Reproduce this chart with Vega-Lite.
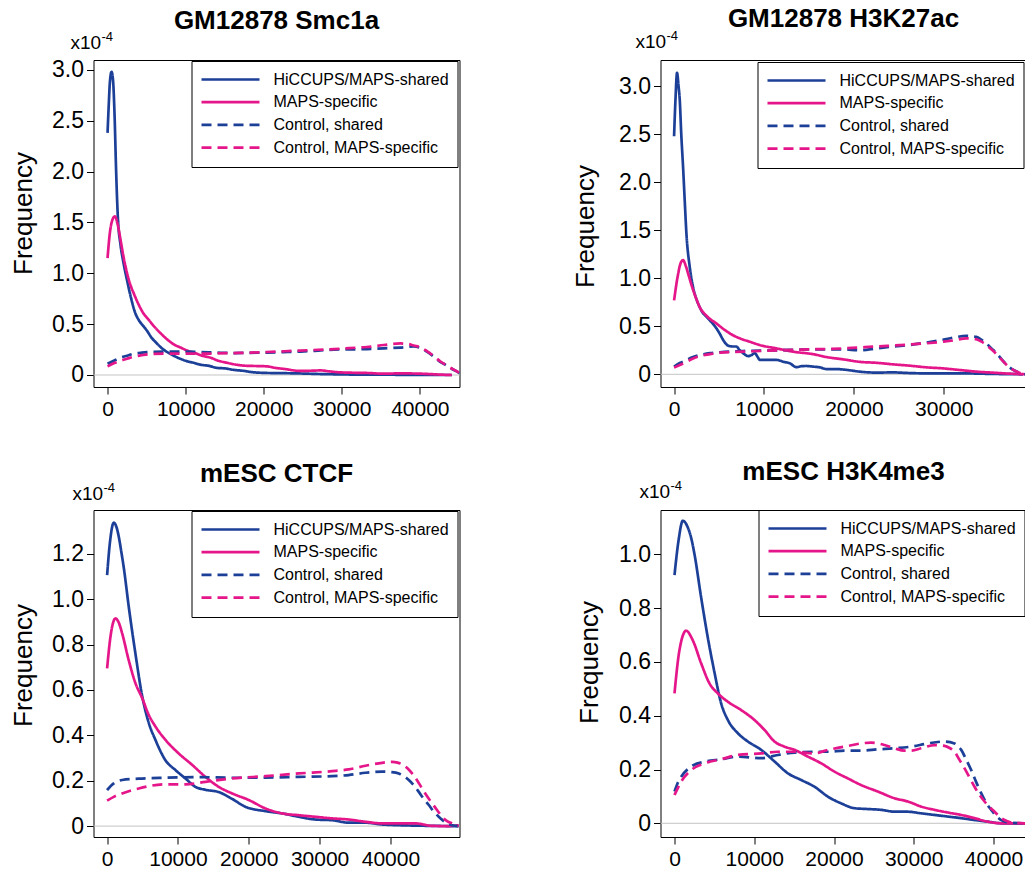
{
  "$schema": "https://vega.github.io/schema/vega-lite/v6.json",
  "background": "white",
  "autosize": {"type": "none"},
  "padding": {"left": 93.5, "top": 60, "right": 931.5, "bottom": 813},
  "datasets": {
    "p1": [
      {"s":"HiCCUPS/MAPS-shared","x":0,"v":2.38},{"s":"HiCCUPS/MAPS-shared","x":150,"v":2.65},{"s":"HiCCUPS/MAPS-shared","x":300,"v":2.88},{"s":"HiCCUPS/MAPS-shared","x":512,"v":2.98},{"s":"HiCCUPS/MAPS-shared","x":700,"v":2.9},{"s":"HiCCUPS/MAPS-shared","x":900,"v":2.55},{"s":"HiCCUPS/MAPS-shared","x":1100,"v":2.0},{"s":"HiCCUPS/MAPS-shared","x":1320,"v":1.55},{"s":"HiCCUPS/MAPS-shared","x":1660,"v":1.28},{"s":"HiCCUPS/MAPS-shared","x":2000,"v":1.12},{"s":"HiCCUPS/MAPS-shared","x":2500,"v":0.93},{"s":"HiCCUPS/MAPS-shared","x":3000,"v":0.76},{"s":"HiCCUPS/MAPS-shared","x":3500,"v":0.62},{"s":"HiCCUPS/MAPS-shared","x":4000,"v":0.54},{"s":"HiCCUPS/MAPS-shared","x":4600,"v":0.48},{"s":"HiCCUPS/MAPS-shared","x":5100,"v":0.43},{"s":"HiCCUPS/MAPS-shared","x":5600,"v":0.37},{"s":"HiCCUPS/MAPS-shared","x":6200,"v":0.32},{"s":"HiCCUPS/MAPS-shared","x":7000,"v":0.26},{"s":"HiCCUPS/MAPS-shared","x":8000,"v":0.21},{"s":"HiCCUPS/MAPS-shared","x":9000,"v":0.17},{"s":"HiCCUPS/MAPS-shared","x":10000,"v":0.14},{"s":"HiCCUPS/MAPS-shared","x":11000,"v":0.12},{"s":"HiCCUPS/MAPS-shared","x":12000,"v":0.1},{"s":"HiCCUPS/MAPS-shared","x":13000,"v":0.09},{"s":"HiCCUPS/MAPS-shared","x":14000,"v":0.07},{"s":"HiCCUPS/MAPS-shared","x":15000,"v":0.065},{"s":"HiCCUPS/MAPS-shared","x":16200,"v":0.05},{"s":"HiCCUPS/MAPS-shared","x":17500,"v":0.04},{"s":"HiCCUPS/MAPS-shared","x":18300,"v":0.03},{"s":"HiCCUPS/MAPS-shared","x":20400,"v":0.02},{"s":"HiCCUPS/MAPS-shared","x":22500,"v":0.018},{"s":"HiCCUPS/MAPS-shared","x":24700,"v":0.015},{"s":"HiCCUPS/MAPS-shared","x":27000,"v":0.01},{"s":"HiCCUPS/MAPS-shared","x":29000,"v":0.007},{"s":"HiCCUPS/MAPS-shared","x":33200,"v":0.003},{"s":"HiCCUPS/MAPS-shared","x":37500,"v":0.002},{"s":"HiCCUPS/MAPS-shared","x":41800,"v":0},{"s":"HiCCUPS/MAPS-shared","x":44100,"v":0},
      {"s":"MAPS-specific","x":0,"v":1.15},{"s":"MAPS-specific","x":300,"v":1.4},{"s":"MAPS-specific","x":600,"v":1.52},{"s":"MAPS-specific","x":940,"v":1.56},{"s":"MAPS-specific","x":1300,"v":1.48},{"s":"MAPS-specific","x":1660,"v":1.33},{"s":"MAPS-specific","x":2000,"v":1.18},{"s":"MAPS-specific","x":2500,"v":1.0},{"s":"MAPS-specific","x":3000,"v":0.87},{"s":"MAPS-specific","x":3370,"v":0.8},{"s":"MAPS-specific","x":4000,"v":0.69},{"s":"MAPS-specific","x":4650,"v":0.6},{"s":"MAPS-specific","x":5300,"v":0.54},{"s":"MAPS-specific","x":5930,"v":0.48},{"s":"MAPS-specific","x":6800,"v":0.41},{"s":"MAPS-specific","x":7640,"v":0.35},{"s":"MAPS-specific","x":8500,"v":0.3},{"s":"MAPS-specific","x":9350,"v":0.27},{"s":"MAPS-specific","x":10200,"v":0.24},{"s":"MAPS-specific","x":11050,"v":0.22},{"s":"MAPS-specific","x":12100,"v":0.19},{"s":"MAPS-specific","x":13200,"v":0.17},{"s":"MAPS-specific","x":14200,"v":0.14},{"s":"MAPS-specific","x":15300,"v":0.12},{"s":"MAPS-specific","x":16600,"v":0.1},{"s":"MAPS-specific","x":17900,"v":0.09},{"s":"MAPS-specific","x":19200,"v":0.088},{"s":"MAPS-specific","x":20400,"v":0.085},{"s":"MAPS-specific","x":21500,"v":0.07},{"s":"MAPS-specific","x":22600,"v":0.06},{"s":"MAPS-specific","x":24700,"v":0.04},{"s":"MAPS-specific","x":26000,"v":0.042},{"s":"MAPS-specific","x":27300,"v":0.045},{"s":"MAPS-specific","x":28500,"v":0.035},{"s":"MAPS-specific","x":29800,"v":0.026},{"s":"MAPS-specific","x":31500,"v":0.022},{"s":"MAPS-specific","x":33200,"v":0.02},{"s":"MAPS-specific","x":35400,"v":0.013},{"s":"MAPS-specific","x":37500,"v":0.016},{"s":"MAPS-specific","x":40100,"v":0.013},{"s":"MAPS-specific","x":42600,"v":0.004},{"s":"MAPS-specific","x":44100,"v":0},
      {"s":"Control, shared","x":0,"v":0.11},{"s":"Control, shared","x":800,"v":0.14},{"s":"Control, shared","x":1660,"v":0.17},{"s":"Control, shared","x":2500,"v":0.19},{"s":"Control, shared","x":3370,"v":0.21},{"s":"Control, shared","x":4400,"v":0.22},{"s":"Control, shared","x":5500,"v":0.226},{"s":"Control, shared","x":7640,"v":0.23},{"s":"Control, shared","x":9800,"v":0.23},{"s":"Control, shared","x":11900,"v":0.226},{"s":"Control, shared","x":14000,"v":0.22},{"s":"Control, shared","x":16200,"v":0.216},{"s":"Control, shared","x":18300,"v":0.218},{"s":"Control, shared","x":20400,"v":0.22},{"s":"Control, shared","x":22500,"v":0.225},{"s":"Control, shared","x":24700,"v":0.23},{"s":"Control, shared","x":27000,"v":0.24},{"s":"Control, shared","x":29000,"v":0.25},{"s":"Control, shared","x":31000,"v":0.252},{"s":"Control, shared","x":33200,"v":0.255},{"s":"Control, shared","x":35400,"v":0.262},{"s":"Control, shared","x":37500,"v":0.27},{"s":"Control, shared","x":39200,"v":0.28},{"s":"Control, shared","x":40100,"v":0.265},{"s":"Control, shared","x":40900,"v":0.23},{"s":"Control, shared","x":41800,"v":0.18},{"s":"Control, shared","x":42600,"v":0.13},{"s":"Control, shared","x":43300,"v":0.1},{"s":"Control, shared","x":43900,"v":0.07},{"s":"Control, shared","x":44600,"v":0.04},{"s":"Control, shared","x":45200,"v":0.013},
      {"s":"Control, MAPS-specific","x":0,"v":0.085},{"s":"Control, MAPS-specific","x":800,"v":0.115},{"s":"Control, MAPS-specific","x":1660,"v":0.14},{"s":"Control, MAPS-specific","x":2500,"v":0.16},{"s":"Control, MAPS-specific","x":3370,"v":0.18},{"s":"Control, MAPS-specific","x":4400,"v":0.195},{"s":"Control, MAPS-specific","x":5500,"v":0.206},{"s":"Control, MAPS-specific","x":7640,"v":0.21},{"s":"Control, MAPS-specific","x":9800,"v":0.21},{"s":"Control, MAPS-specific","x":11900,"v":0.21},{"s":"Control, MAPS-specific","x":14000,"v":0.212},{"s":"Control, MAPS-specific","x":16200,"v":0.216},{"s":"Control, MAPS-specific","x":18300,"v":0.22},{"s":"Control, MAPS-specific","x":20400,"v":0.226},{"s":"Control, MAPS-specific","x":22500,"v":0.233},{"s":"Control, MAPS-specific","x":24700,"v":0.24},{"s":"Control, MAPS-specific","x":27000,"v":0.248},{"s":"Control, MAPS-specific","x":29000,"v":0.255},{"s":"Control, MAPS-specific","x":31000,"v":0.265},{"s":"Control, MAPS-specific","x":33200,"v":0.275},{"s":"Control, MAPS-specific","x":35400,"v":0.295},{"s":"Control, MAPS-specific","x":37500,"v":0.31},{"s":"Control, MAPS-specific","x":38500,"v":0.305},{"s":"Control, MAPS-specific","x":39200,"v":0.29},{"s":"Control, MAPS-specific","x":40100,"v":0.272},{"s":"Control, MAPS-specific","x":40900,"v":0.235},{"s":"Control, MAPS-specific","x":41800,"v":0.185},{"s":"Control, MAPS-specific","x":42600,"v":0.135},{"s":"Control, MAPS-specific","x":43300,"v":0.1},{"s":"Control, MAPS-specific","x":43900,"v":0.072},{"s":"Control, MAPS-specific","x":44600,"v":0.042},{"s":"Control, MAPS-specific","x":45200,"v":0.015}
    ],
    "p2": [
      {"s":"HiCCUPS/MAPS-shared","x":0,"v":2.48},{"s":"HiCCUPS/MAPS-shared","x":150,"v":2.85},{"s":"HiCCUPS/MAPS-shared","x":330,"v":3.14},{"s":"HiCCUPS/MAPS-shared","x":500,"v":3.0},{"s":"HiCCUPS/MAPS-shared","x":630,"v":2.86},{"s":"HiCCUPS/MAPS-shared","x":800,"v":2.5},{"s":"HiCCUPS/MAPS-shared","x":1000,"v":2.16},{"s":"HiCCUPS/MAPS-shared","x":1200,"v":1.78},{"s":"HiCCUPS/MAPS-shared","x":1370,"v":1.47},{"s":"HiCCUPS/MAPS-shared","x":1740,"v":1.12},{"s":"HiCCUPS/MAPS-shared","x":2110,"v":0.91},{"s":"HiCCUPS/MAPS-shared","x":2500,"v":0.78},{"s":"HiCCUPS/MAPS-shared","x":2850,"v":0.7},{"s":"HiCCUPS/MAPS-shared","x":3200,"v":0.64},{"s":"HiCCUPS/MAPS-shared","x":3600,"v":0.6},{"s":"HiCCUPS/MAPS-shared","x":4100,"v":0.55},{"s":"HiCCUPS/MAPS-shared","x":4700,"v":0.48},{"s":"HiCCUPS/MAPS-shared","x":5100,"v":0.42},{"s":"HiCCUPS/MAPS-shared","x":5450,"v":0.36},{"s":"HiCCUPS/MAPS-shared","x":6000,"v":0.3},{"s":"HiCCUPS/MAPS-shared","x":6500,"v":0.29},{"s":"HiCCUPS/MAPS-shared","x":6930,"v":0.29},{"s":"HiCCUPS/MAPS-shared","x":7300,"v":0.25},{"s":"HiCCUPS/MAPS-shared","x":7680,"v":0.22},{"s":"HiCCUPS/MAPS-shared","x":8230,"v":0.19},{"s":"HiCCUPS/MAPS-shared","x":8600,"v":0.2},{"s":"HiCCUPS/MAPS-shared","x":8970,"v":0.22},{"s":"HiCCUPS/MAPS-shared","x":9300,"v":0.18},{"s":"HiCCUPS/MAPS-shared","x":9530,"v":0.15},{"s":"HiCCUPS/MAPS-shared","x":10500,"v":0.15},{"s":"HiCCUPS/MAPS-shared","x":11400,"v":0.15},{"s":"HiCCUPS/MAPS-shared","x":12200,"v":0.13},{"s":"HiCCUPS/MAPS-shared","x":12870,"v":0.115},{"s":"HiCCUPS/MAPS-shared","x":13600,"v":0.075},{"s":"HiCCUPS/MAPS-shared","x":14200,"v":0.085},{"s":"HiCCUPS/MAPS-shared","x":14700,"v":0.087},{"s":"HiCCUPS/MAPS-shared","x":15500,"v":0.08},{"s":"HiCCUPS/MAPS-shared","x":16200,"v":0.073},{"s":"HiCCUPS/MAPS-shared","x":16950,"v":0.055},{"s":"HiCCUPS/MAPS-shared","x":18000,"v":0.055},{"s":"HiCCUPS/MAPS-shared","x":18800,"v":0.05},{"s":"HiCCUPS/MAPS-shared","x":19700,"v":0.04},{"s":"HiCCUPS/MAPS-shared","x":20650,"v":0.028},{"s":"HiCCUPS/MAPS-shared","x":22500,"v":0.018},{"s":"HiCCUPS/MAPS-shared","x":24400,"v":0.02},{"s":"HiCCUPS/MAPS-shared","x":26000,"v":0.014},{"s":"HiCCUPS/MAPS-shared","x":28100,"v":0.01},{"s":"HiCCUPS/MAPS-shared","x":31800,"v":0.01},{"s":"HiCCUPS/MAPS-shared","x":35500,"v":0.004},{"s":"HiCCUPS/MAPS-shared","x":38800,"v":0},
      {"s":"MAPS-specific","x":0,"v":0.77},{"s":"MAPS-specific","x":400,"v":1.02},{"s":"MAPS-specific","x":700,"v":1.15},{"s":"MAPS-specific","x":1000,"v":1.19},{"s":"MAPS-specific","x":1300,"v":1.13},{"s":"MAPS-specific","x":1560,"v":1.05},{"s":"MAPS-specific","x":2110,"v":0.88},{"s":"MAPS-specific","x":2500,"v":0.78},{"s":"MAPS-specific","x":2850,"v":0.7},{"s":"MAPS-specific","x":3600,"v":0.61},{"s":"MAPS-specific","x":4700,"v":0.53},{"s":"MAPS-specific","x":5820,"v":0.45},{"s":"MAPS-specific","x":6500,"v":0.41},{"s":"MAPS-specific","x":7300,"v":0.375},{"s":"MAPS-specific","x":8400,"v":0.34},{"s":"MAPS-specific","x":9530,"v":0.305},{"s":"MAPS-specific","x":11380,"v":0.27},{"s":"MAPS-specific","x":13240,"v":0.236},{"s":"MAPS-specific","x":15460,"v":0.21},{"s":"MAPS-specific","x":16950,"v":0.18},{"s":"MAPS-specific","x":18800,"v":0.156},{"s":"MAPS-specific","x":20650,"v":0.13},{"s":"MAPS-specific","x":22500,"v":0.12},{"s":"MAPS-specific","x":24360,"v":0.104},{"s":"MAPS-specific","x":26200,"v":0.09},{"s":"MAPS-specific","x":28070,"v":0.073},{"s":"MAPS-specific","x":29900,"v":0.062},{"s":"MAPS-specific","x":31780,"v":0.045},{"s":"MAPS-specific","x":33630,"v":0.028},{"s":"MAPS-specific","x":35500,"v":0.017},{"s":"MAPS-specific","x":37340,"v":0.007},{"s":"MAPS-specific","x":39200,"v":0},
      {"s":"Control, shared","x":0,"v":0.08},{"s":"Control, shared","x":700,"v":0.12},{"s":"Control, shared","x":1370,"v":0.15},{"s":"Control, shared","x":2110,"v":0.18},{"s":"Control, shared","x":2850,"v":0.2},{"s":"Control, shared","x":4000,"v":0.22},{"s":"Control, shared","x":5080,"v":0.23},{"s":"Control, shared","x":7680,"v":0.243},{"s":"Control, shared","x":11400,"v":0.25},{"s":"Control, shared","x":15100,"v":0.26},{"s":"Control, shared","x":18800,"v":0.26},{"s":"Control, shared","x":20650,"v":0.25},{"s":"Control, shared","x":22500,"v":0.27},{"s":"Control, shared","x":24400,"v":0.29},{"s":"Control, shared","x":26200,"v":0.305},{"s":"Control, shared","x":28000,"v":0.33},{"s":"Control, shared","x":29900,"v":0.36},{"s":"Control, shared","x":31200,"v":0.385},{"s":"Control, shared","x":32500,"v":0.4},{"s":"Control, shared","x":33600,"v":0.39},{"s":"Control, shared","x":34200,"v":0.36},{"s":"Control, shared","x":34750,"v":0.32},{"s":"Control, shared","x":35300,"v":0.27},{"s":"Control, shared","x":35860,"v":0.22},{"s":"Control, shared","x":36400,"v":0.16},{"s":"Control, shared","x":36970,"v":0.1},{"s":"Control, shared","x":37500,"v":0.06},{"s":"Control, shared","x":38080,"v":0.03},{"s":"Control, shared","x":38600,"v":0.01},{"s":"Control, shared","x":39200,"v":0},
      {"s":"Control, MAPS-specific","x":0,"v":0.07},{"s":"Control, MAPS-specific","x":700,"v":0.1},{"s":"Control, MAPS-specific","x":1370,"v":0.13},{"s":"Control, MAPS-specific","x":2110,"v":0.165},{"s":"Control, MAPS-specific","x":2850,"v":0.19},{"s":"Control, MAPS-specific","x":4000,"v":0.21},{"s":"Control, MAPS-specific","x":5080,"v":0.226},{"s":"Control, MAPS-specific","x":7680,"v":0.236},{"s":"Control, MAPS-specific","x":11400,"v":0.25},{"s":"Control, MAPS-specific","x":15100,"v":0.26},{"s":"Control, MAPS-specific","x":18800,"v":0.27},{"s":"Control, MAPS-specific","x":22500,"v":0.29},{"s":"Control, MAPS-specific","x":26200,"v":0.31},{"s":"Control, MAPS-specific","x":29900,"v":0.34},{"s":"Control, MAPS-specific","x":31200,"v":0.355},{"s":"Control, MAPS-specific","x":32500,"v":0.375},{"s":"Control, MAPS-specific","x":33600,"v":0.365},{"s":"Control, MAPS-specific","x":34200,"v":0.34},{"s":"Control, MAPS-specific","x":34750,"v":0.305},{"s":"Control, MAPS-specific","x":35300,"v":0.26},{"s":"Control, MAPS-specific","x":35860,"v":0.21},{"s":"Control, MAPS-specific","x":36400,"v":0.155},{"s":"Control, MAPS-specific","x":36970,"v":0.1},{"s":"Control, MAPS-specific","x":37500,"v":0.06},{"s":"Control, MAPS-specific","x":38080,"v":0.03},{"s":"Control, MAPS-specific","x":38600,"v":0.01},{"s":"Control, MAPS-specific","x":39200,"v":0}
    ],
    "p3": [
      {"s":"HiCCUPS/MAPS-shared","x":0,"v":1.106},{"s":"HiCCUPS/MAPS-shared","x":400,"v":1.25},{"s":"HiCCUPS/MAPS-shared","x":940,"v":1.337},{"s":"HiCCUPS/MAPS-shared","x":1300,"v":1.32},{"s":"HiCCUPS/MAPS-shared","x":1650,"v":1.275},{"s":"HiCCUPS/MAPS-shared","x":2000,"v":1.21},{"s":"HiCCUPS/MAPS-shared","x":2350,"v":1.14},{"s":"HiCCUPS/MAPS-shared","x":3060,"v":0.966},{"s":"HiCCUPS/MAPS-shared","x":4000,"v":0.76},{"s":"HiCCUPS/MAPS-shared","x":4940,"v":0.575},{"s":"HiCCUPS/MAPS-shared","x":5880,"v":0.455},{"s":"HiCCUPS/MAPS-shared","x":6820,"v":0.38},{"s":"HiCCUPS/MAPS-shared","x":8240,"v":0.29},{"s":"HiCCUPS/MAPS-shared","x":9650,"v":0.247},{"s":"HiCCUPS/MAPS-shared","x":11060,"v":0.21},{"s":"HiCCUPS/MAPS-shared","x":12470,"v":0.173},{"s":"HiCCUPS/MAPS-shared","x":13880,"v":0.16},{"s":"HiCCUPS/MAPS-shared","x":15760,"v":0.15},{"s":"HiCCUPS/MAPS-shared","x":17650,"v":0.12},{"s":"HiCCUPS/MAPS-shared","x":19530,"v":0.085},{"s":"HiCCUPS/MAPS-shared","x":22350,"v":0.066},{"s":"HiCCUPS/MAPS-shared","x":24700,"v":0.056},{"s":"HiCCUPS/MAPS-shared","x":27060,"v":0.041},{"s":"HiCCUPS/MAPS-shared","x":29400,"v":0.029},{"s":"HiCCUPS/MAPS-shared","x":31760,"v":0.026},{"s":"HiCCUPS/MAPS-shared","x":34100,"v":0.015},{"s":"HiCCUPS/MAPS-shared","x":36470,"v":0.015},{"s":"HiCCUPS/MAPS-shared","x":38820,"v":0.007},{"s":"HiCCUPS/MAPS-shared","x":41180,"v":0.004},{"s":"HiCCUPS/MAPS-shared","x":45900,"v":0.001},{"s":"HiCCUPS/MAPS-shared","x":49600,"v":0},
      {"s":"MAPS-specific","x":0,"v":0.695},{"s":"MAPS-specific","x":500,"v":0.84},{"s":"MAPS-specific","x":1180,"v":0.915},{"s":"MAPS-specific","x":1600,"v":0.9},{"s":"MAPS-specific","x":2120,"v":0.85},{"s":"MAPS-specific","x":3060,"v":0.73},{"s":"MAPS-specific","x":4000,"v":0.63},{"s":"MAPS-specific","x":4940,"v":0.565},{"s":"MAPS-specific","x":5880,"v":0.49},{"s":"MAPS-specific","x":6800,"v":0.44},{"s":"MAPS-specific","x":8240,"v":0.38},{"s":"MAPS-specific","x":10120,"v":0.32},{"s":"MAPS-specific","x":12000,"v":0.27},{"s":"MAPS-specific","x":13880,"v":0.217},{"s":"MAPS-specific","x":15760,"v":0.173},{"s":"MAPS-specific","x":17650,"v":0.144},{"s":"MAPS-specific","x":20000,"v":0.115},{"s":"MAPS-specific","x":22350,"v":0.078},{"s":"MAPS-specific","x":24700,"v":0.056},{"s":"MAPS-specific","x":27060,"v":0.048},{"s":"MAPS-specific","x":29400,"v":0.041},{"s":"MAPS-specific","x":31760,"v":0.034},{"s":"MAPS-specific","x":34100,"v":0.029},{"s":"MAPS-specific","x":36470,"v":0.019},{"s":"MAPS-specific","x":38800,"v":0.012},{"s":"MAPS-specific","x":41180,"v":0.012},{"s":"MAPS-specific","x":43530,"v":0.012},{"s":"MAPS-specific","x":45880,"v":0.001},{"s":"MAPS-specific","x":48000,"v":0},{"s":"MAPS-specific","x":49600,"v":0.004},
      {"s":"Control, shared","x":0,"v":0.159},{"s":"Control, shared","x":940,"v":0.188},{"s":"Control, shared","x":2120,"v":0.203},{"s":"Control, shared","x":4470,"v":0.209},{"s":"Control, shared","x":8240,"v":0.213},{"s":"Control, shared","x":12940,"v":0.216},{"s":"Control, shared","x":17650,"v":0.213},{"s":"Control, shared","x":22350,"v":0.214},{"s":"Control, shared","x":27060,"v":0.217},{"s":"Control, shared","x":31760,"v":0.22},{"s":"Control, shared","x":34100,"v":0.225},{"s":"Control, shared","x":36470,"v":0.235},{"s":"Control, shared","x":38820,"v":0.24},{"s":"Control, shared","x":40200,"v":0.238},{"s":"Control, shared","x":41180,"v":0.232},{"s":"Control, shared","x":42000,"v":0.218},{"s":"Control, shared","x":42590,"v":0.203},{"s":"Control, shared","x":43300,"v":0.18},{"s":"Control, shared","x":44000,"v":0.151},{"s":"Control, shared","x":44700,"v":0.12},{"s":"Control, shared","x":45410,"v":0.093},{"s":"Control, shared","x":46100,"v":0.065},{"s":"Control, shared","x":46820,"v":0.041},{"s":"Control, shared","x":47400,"v":0.025},{"s":"Control, shared","x":48000,"v":0.012},{"s":"Control, shared","x":48700,"v":0.004},{"s":"Control, shared","x":49600,"v":0},
      {"s":"Control, MAPS-specific","x":0,"v":0.112},{"s":"Control, MAPS-specific","x":1000,"v":0.13},{"s":"Control, MAPS-specific","x":2120,"v":0.144},{"s":"Control, MAPS-specific","x":4470,"v":0.166},{"s":"Control, MAPS-specific","x":8240,"v":0.184},{"s":"Control, MAPS-specific","x":11060,"v":0.184},{"s":"Control, MAPS-specific","x":13880,"v":0.195},{"s":"Control, MAPS-specific","x":17650,"v":0.21},{"s":"Control, MAPS-specific","x":22350,"v":0.22},{"s":"Control, MAPS-specific","x":27060,"v":0.232},{"s":"Control, MAPS-specific","x":31760,"v":0.242},{"s":"Control, MAPS-specific","x":34100,"v":0.25},{"s":"Control, MAPS-specific","x":36470,"v":0.266},{"s":"Control, MAPS-specific","x":38820,"v":0.279},{"s":"Control, MAPS-specific","x":40230,"v":0.283},{"s":"Control, MAPS-specific","x":41000,"v":0.28},{"s":"Control, MAPS-specific","x":41650,"v":0.272},{"s":"Control, MAPS-specific","x":42400,"v":0.255},{"s":"Control, MAPS-specific","x":43060,"v":0.232},{"s":"Control, MAPS-specific","x":43800,"v":0.2},{"s":"Control, MAPS-specific","x":44470,"v":0.166},{"s":"Control, MAPS-specific","x":45200,"v":0.13},{"s":"Control, MAPS-specific","x":45880,"v":0.1},{"s":"Control, MAPS-specific","x":46600,"v":0.07},{"s":"Control, MAPS-specific","x":47290,"v":0.041},{"s":"Control, MAPS-specific","x":48000,"v":0.022},{"s":"Control, MAPS-specific","x":48700,"v":0.012},{"s":"Control, MAPS-specific","x":49650,"v":0}
    ],
    "p4": [
      {"s":"HiCCUPS/MAPS-shared","x":0,"v":0.923},{"s":"HiCCUPS/MAPS-shared","x":500,"v":1.05},{"s":"HiCCUPS/MAPS-shared","x":1045,"v":1.125},{"s":"HiCCUPS/MAPS-shared","x":1670,"v":1.1},{"s":"HiCCUPS/MAPS-shared","x":2100,"v":1.06},{"s":"HiCCUPS/MAPS-shared","x":2510,"v":1.0},{"s":"HiCCUPS/MAPS-shared","x":3340,"v":0.84},{"s":"HiCCUPS/MAPS-shared","x":4180,"v":0.69},{"s":"HiCCUPS/MAPS-shared","x":5020,"v":0.56},{"s":"HiCCUPS/MAPS-shared","x":5850,"v":0.446},{"s":"HiCCUPS/MAPS-shared","x":6690,"v":0.384},{"s":"HiCCUPS/MAPS-shared","x":7940,"v":0.335},{"s":"HiCCUPS/MAPS-shared","x":9200,"v":0.304},{"s":"HiCCUPS/MAPS-shared","x":10870,"v":0.273},{"s":"HiCCUPS/MAPS-shared","x":12540,"v":0.23},{"s":"HiCCUPS/MAPS-shared","x":14210,"v":0.186},{"s":"HiCCUPS/MAPS-shared","x":15880,"v":0.161},{"s":"HiCCUPS/MAPS-shared","x":17550,"v":0.136},{"s":"HiCCUPS/MAPS-shared","x":19230,"v":0.099},{"s":"HiCCUPS/MAPS-shared","x":20900,"v":0.074},{"s":"HiCCUPS/MAPS-shared","x":22570,"v":0.056},{"s":"HiCCUPS/MAPS-shared","x":24240,"v":0.053},{"s":"HiCCUPS/MAPS-shared","x":25910,"v":0.05},{"s":"HiCCUPS/MAPS-shared","x":27590,"v":0.043},{"s":"HiCCUPS/MAPS-shared","x":29260,"v":0.043},{"s":"HiCCUPS/MAPS-shared","x":30930,"v":0.037},{"s":"HiCCUPS/MAPS-shared","x":32600,"v":0.031},{"s":"HiCCUPS/MAPS-shared","x":34280,"v":0.025},{"s":"HiCCUPS/MAPS-shared","x":35950,"v":0.019},{"s":"HiCCUPS/MAPS-shared","x":37620,"v":0.012},{"s":"HiCCUPS/MAPS-shared","x":39290,"v":0.006},{"s":"HiCCUPS/MAPS-shared","x":40960,"v":0},{"s":"HiCCUPS/MAPS-shared","x":44100,"v":0},
      {"s":"MAPS-specific","x":0,"v":0.483},{"s":"MAPS-specific","x":600,"v":0.64},{"s":"MAPS-specific","x":1460,"v":0.716},{"s":"MAPS-specific","x":2300,"v":0.68},{"s":"MAPS-specific","x":3340,"v":0.595},{"s":"MAPS-specific","x":4390,"v":0.52},{"s":"MAPS-specific","x":5430,"v":0.483},{"s":"MAPS-specific","x":6690,"v":0.452},{"s":"MAPS-specific","x":8360,"v":0.421},{"s":"MAPS-specific","x":10030,"v":0.384},{"s":"MAPS-specific","x":11290,"v":0.347},{"s":"MAPS-specific","x":12540,"v":0.304},{"s":"MAPS-specific","x":13790,"v":0.285},{"s":"MAPS-specific","x":15050,"v":0.273},{"s":"MAPS-specific","x":16720,"v":0.248},{"s":"MAPS-specific","x":18390,"v":0.223},{"s":"MAPS-specific","x":20060,"v":0.192},{"s":"MAPS-specific","x":21730,"v":0.167},{"s":"MAPS-specific","x":23410,"v":0.142},{"s":"MAPS-specific","x":25500,"v":0.118},{"s":"MAPS-specific","x":27590,"v":0.093},{"s":"MAPS-specific","x":29260,"v":0.081},{"s":"MAPS-specific","x":30930,"v":0.062},{"s":"MAPS-specific","x":32600,"v":0.05},{"s":"MAPS-specific","x":34280,"v":0.04},{"s":"MAPS-specific","x":35950,"v":0.031},{"s":"MAPS-specific","x":37620,"v":0.019},{"s":"MAPS-specific","x":39290,"v":0.006},{"s":"MAPS-specific","x":40960,"v":0},{"s":"MAPS-specific","x":44100,"v":0},
      {"s":"Control, shared","x":0,"v":0.118},{"s":"Control, shared","x":400,"v":0.15},{"s":"Control, shared","x":840,"v":0.173},{"s":"Control, shared","x":2090,"v":0.211},{"s":"Control, shared","x":3760,"v":0.229},{"s":"Control, shared","x":5850,"v":0.238},{"s":"Control, shared","x":7940,"v":0.248},{"s":"Control, shared","x":10870,"v":0.242},{"s":"Control, shared","x":12960,"v":0.254},{"s":"Control, shared","x":15050,"v":0.263},{"s":"Control, shared","x":17550,"v":0.266},{"s":"Control, shared","x":19230,"v":0.266},{"s":"Control, shared","x":21320,"v":0.27},{"s":"Control, shared","x":23410,"v":0.27},{"s":"Control, shared","x":25500,"v":0.275},{"s":"Control, shared","x":27590,"v":0.279},{"s":"Control, shared","x":29680,"v":0.285},{"s":"Control, shared","x":31770,"v":0.297},{"s":"Control, shared","x":33860,"v":0.304},{"s":"Control, shared","x":35110,"v":0.297},{"s":"Control, shared","x":35600,"v":0.285},{"s":"Control, shared","x":35950,"v":0.273},{"s":"Control, shared","x":36600,"v":0.235},{"s":"Control, shared","x":37200,"v":0.198},{"s":"Control, shared","x":37800,"v":0.155},{"s":"Control, shared","x":38450,"v":0.112},{"s":"Control, shared","x":39100,"v":0.075},{"s":"Control, shared","x":39710,"v":0.05},{"s":"Control, shared","x":40300,"v":0.028},{"s":"Control, shared","x":40960,"v":0.012},{"s":"Control, shared","x":41600,"v":0.005},{"s":"Control, shared","x":42210,"v":0.002},{"s":"Control, shared","x":44100,"v":0},
      {"s":"Control, MAPS-specific","x":0,"v":0.105},{"s":"Control, MAPS-specific","x":400,"v":0.13},{"s":"Control, MAPS-specific","x":840,"v":0.155},{"s":"Control, MAPS-specific","x":2090,"v":0.198},{"s":"Control, MAPS-specific","x":3760,"v":0.223},{"s":"Control, MAPS-specific","x":5850,"v":0.238},{"s":"Control, MAPS-specific","x":7940,"v":0.254},{"s":"Control, MAPS-specific","x":10870,"v":0.26},{"s":"Control, MAPS-specific","x":12960,"v":0.266},{"s":"Control, MAPS-specific","x":15050,"v":0.266},{"s":"Control, MAPS-specific","x":17550,"v":0.26},{"s":"Control, MAPS-specific","x":19230,"v":0.273},{"s":"Control, MAPS-specific","x":21320,"v":0.285},{"s":"Control, MAPS-specific","x":23410,"v":0.297},{"s":"Control, MAPS-specific","x":24660,"v":0.3},{"s":"Control, MAPS-specific","x":26330,"v":0.291},{"s":"Control, MAPS-specific","x":27590,"v":0.279},{"s":"Control, MAPS-specific","x":28800,"v":0.27},{"s":"Control, MAPS-specific","x":29680,"v":0.27},{"s":"Control, MAPS-specific","x":30930,"v":0.279},{"s":"Control, MAPS-specific","x":32600,"v":0.291},{"s":"Control, MAPS-specific","x":33860,"v":0.288},{"s":"Control, MAPS-specific","x":34500,"v":0.28},{"s":"Control, MAPS-specific","x":35110,"v":0.266},{"s":"Control, MAPS-specific","x":35750,"v":0.235},{"s":"Control, MAPS-specific","x":36370,"v":0.204},{"s":"Control, MAPS-specific","x":37000,"v":0.17},{"s":"Control, MAPS-specific","x":37620,"v":0.136},{"s":"Control, MAPS-specific","x":38250,"v":0.105},{"s":"Control, MAPS-specific","x":38870,"v":0.081},{"s":"Control, MAPS-specific","x":39500,"v":0.06},{"s":"Control, MAPS-specific","x":40130,"v":0.043},{"s":"Control, MAPS-specific","x":40750,"v":0.025},{"s":"Control, MAPS-specific","x":41380,"v":0.012},{"s":"Control, MAPS-specific","x":42000,"v":0.005},{"s":"Control, MAPS-specific","x":42630,"v":0.002},{"s":"Control, MAPS-specific","x":44100,"v":0}
    ]
  },
  "columns": 2,
  "spacing": {"row": 123, "column": 201},
  "bounds": "flush",
  "resolve": {
    "scale": {"x": "independent", "y": "independent", "color": "independent", "strokeDash": "independent"},
    "axis": {"x": "independent", "y": "independent"},
    "legend": {"color": "independent", "strokeDash": "independent"}
  },
  "concat": [
    {
      "width": 366, "height": 327,
      "title": {"text": "GM12878 Smc1a", "frame": "group", "anchor": "middle", "baseline": "alphabetic", "offset": -24},
      "layer": [
        {"data": {"values": [{}]}, "mark": {"type": "rule", "color": "#c4c4c4", "strokeWidth": 1}, "encoding": {"y": {"datum": 0, "type": "quantitative"}}},
        {"data": {"name": "p1"},
         "mark": {"type": "line", "strokeWidth": 2.7, "interpolate": "monotone", "clip": true},
         "encoding": {
           "x": {"field": "x", "type": "quantitative", "scale": {"domain": [-1800, 45080], "nice": false, "zero": false}, "axis": {"values": [0, 10000, 20000, 30000, 40000], "format": "d", "title": null}},
           "y": {"field": "v", "type": "quantitative", "scale": {"domain": [-0.118, 3.097], "nice": false, "zero": false}, "axis": {"values": [0, 0.5, 1, 1.5, 2, 2.5, 3], "labelExpr": "datum.value == 0 ? '0' : format(datum.value, '.1f')", "title": "Frequency", "titleX": -62, "titleY": 153}},
           "color": {"field": "s", "type": "nominal", "scale": {"domain": ["HiCCUPS/MAPS-shared", "MAPS-specific", "Control, shared", "Control, MAPS-specific"], "range": ["#1c3f98", "#e5168a", "#1c3f98", "#e5168a"]}, "legend": {"legendX": 98, "legendY": 1}},
           "strokeDash": {"field": "s", "type": "nominal", "scale": {"domain": ["HiCCUPS/MAPS-shared", "MAPS-specific", "Control, shared", "Control, MAPS-specific"], "range": [[1, 0], [1, 0], [10, 6], [10, 6]]}, "legend": {"legendX": 98, "legendY": 1}}
         }},
        {"data": {"values": [{}]}, "mark": {"type": "text", "text": "x10", "align": "left", "baseline": "alphabetic", "dx": -23, "dy": -11, "fontSize": 19, "color": "black"}, "encoding": {"x": {"datum": -1800, "type": "quantitative"}, "y": {"datum": 3.097, "type": "quantitative"}}},
        {"data": {"values": [{}]}, "mark": {"type": "text", "text": "-4", "align": "left", "baseline": "alphabetic", "dx": 8, "dy": -19, "fontSize": 13, "color": "black"}, "encoding": {"x": {"datum": -1800, "type": "quantitative"}, "y": {"datum": 3.097, "type": "quantitative"}}}
      ]
    },
    {
      "width": 366, "height": 327,
      "title": {"text": "GM12878 H3K27ac", "frame": "group", "anchor": "middle", "baseline": "alphabetic", "offset": -23},
      "layer": [
        {"data": {"values": [{}]}, "mark": {"type": "rule", "color": "#c4c4c4", "strokeWidth": 1}, "encoding": {"y": {"datum": 0, "type": "quantitative"}}},
        {"data": {"name": "p2"},
         "mark": {"type": "line", "strokeWidth": 2.7, "interpolate": "monotone", "clip": true},
         "encoding": {
           "x": {"field": "x", "type": "quantitative", "scale": {"domain": [-1510, 39200], "nice": false, "zero": false}, "axis": {"values": [0, 10000, 20000, 30000], "format": "d", "title": null}},
           "y": {"field": "v", "type": "quantitative", "scale": {"domain": [-0.132, 3.274], "nice": false, "zero": false}, "axis": {"values": [0, 0.5, 1, 1.5, 2, 2.5, 3], "labelExpr": "datum.value == 0 ? '0' : format(datum.value, '.1f')", "title": "Frequency", "titleX": -67, "titleY": 166}},
           "color": {"field": "s", "type": "nominal", "scale": {"domain": ["HiCCUPS/MAPS-shared", "MAPS-specific", "Control, shared", "Control, MAPS-specific"], "range": ["#1c3f98", "#e5168a", "#1c3f98", "#e5168a"]}, "legend": {"legendX": 97, "legendY": 2}},
           "strokeDash": {"field": "s", "type": "nominal", "scale": {"domain": ["HiCCUPS/MAPS-shared", "MAPS-specific", "Control, shared", "Control, MAPS-specific"], "range": [[1, 0], [1, 0], [10, 6], [10, 6]]}, "legend": {"legendX": 97, "legendY": 2}}
         }},
        {"data": {"values": [{}]}, "mark": {"type": "text", "text": "x10", "align": "left", "baseline": "alphabetic", "dx": -25, "dy": -12, "fontSize": 19, "color": "black"}, "encoding": {"x": {"datum": -1510, "type": "quantitative"}, "y": {"datum": 3.274, "type": "quantitative"}}},
        {"data": {"values": [{}]}, "mark": {"type": "text", "text": "-4", "align": "left", "baseline": "alphabetic", "dx": 6, "dy": -20, "fontSize": 13, "color": "black"}, "encoding": {"x": {"datum": -1510, "type": "quantitative"}, "y": {"datum": 3.274, "type": "quantitative"}}}
      ]
    },
    {
      "width": 366, "height": 327,
      "title": {"text": "mESC CTCF", "frame": "group", "anchor": "middle", "baseline": "alphabetic", "offset": -26},
      "layer": [
        {"data": {"values": [{}]}, "mark": {"type": "rule", "color": "#c4c4c4", "strokeWidth": 1}, "encoding": {"y": {"datum": 0, "type": "quantitative"}}},
        {"data": {"name": "p3"},
         "mark": {"type": "line", "strokeWidth": 2.7, "interpolate": "monotone", "clip": true},
         "encoding": {
           "x": {"field": "x", "type": "quantitative", "scale": {"domain": [-1920, 49750], "nice": false, "zero": false}, "axis": {"values": [0, 10000, 20000, 30000, 40000], "format": "d", "title": null}},
           "y": {"field": "v", "type": "quantitative", "scale": {"domain": [-0.048, 1.393], "nice": false, "zero": false}, "axis": {"values": [0, 0.2, 0.4, 0.6, 0.8, 1.0, 1.2], "labelExpr": "datum.value == 0 ? '0' : format(datum.value, '.1f')", "title": "Frequency", "titleX": -62, "titleY": 155}},
           "color": {"field": "s", "type": "nominal", "scale": {"domain": ["HiCCUPS/MAPS-shared", "MAPS-specific", "Control, shared", "Control, MAPS-specific"], "range": ["#1c3f98", "#e5168a", "#1c3f98", "#e5168a"]}, "legend": {"legendX": 98, "legendY": 1}},
           "strokeDash": {"field": "s", "type": "nominal", "scale": {"domain": ["HiCCUPS/MAPS-shared", "MAPS-specific", "Control, shared", "Control, MAPS-specific"], "range": [[1, 0], [1, 0], [10, 6], [10, 6]]}, "legend": {"legendX": 98, "legendY": 1}}
         }},
        {"data": {"values": [{}]}, "mark": {"type": "text", "text": "x10", "align": "left", "baseline": "alphabetic", "dx": -21, "dy": -10, "fontSize": 19, "color": "black"}, "encoding": {"x": {"datum": -1920, "type": "quantitative"}, "y": {"datum": 1.393, "type": "quantitative"}}},
        {"data": {"values": [{}]}, "mark": {"type": "text", "text": "-4", "align": "left", "baseline": "alphabetic", "dx": 10, "dy": -18, "fontSize": 13, "color": "black"}, "encoding": {"x": {"datum": -1920, "type": "quantitative"}, "y": {"datum": 1.393, "type": "quantitative"}}}
      ]
    },
    {
      "width": 366, "height": 327,
      "title": {"text": "mESC H3K4me3", "frame": "group", "anchor": "middle", "baseline": "alphabetic", "offset": -26},
      "layer": [
        {"data": {"values": [{}]}, "mark": {"type": "rule", "color": "#c4c4c4", "strokeWidth": 1}, "encoding": {"y": {"datum": 0, "type": "quantitative"}}},
        {"data": {"name": "p4"},
         "mark": {"type": "line", "strokeWidth": 2.7, "interpolate": "monotone", "clip": true},
         "encoding": {
           "x": {"field": "x", "type": "quantitative", "scale": {"domain": [-1755, 44135], "nice": false, "zero": false}, "axis": {"values": [0, 10000, 20000, 30000, 40000], "format": "d", "title": null}},
           "y": {"field": "v", "type": "quantitative", "scale": {"domain": [-0.051, 1.165], "nice": false, "zero": false}, "axis": {"values": [0, 0.2, 0.4, 0.6, 0.8, 1.0], "labelExpr": "datum.value == 0 ? '0' : format(datum.value, '.1f')", "title": "Frequency", "titleX": -63, "titleY": 152}},
           "color": {"field": "s", "type": "nominal", "scale": {"domain": ["HiCCUPS/MAPS-shared", "MAPS-specific", "Control, shared", "Control, MAPS-specific"], "range": ["#1c3f98", "#e5168a", "#1c3f98", "#e5168a"]}, "legend": {"legendX": 98, "legendY": 0}},
           "strokeDash": {"field": "s", "type": "nominal", "scale": {"domain": ["HiCCUPS/MAPS-shared", "MAPS-specific", "Control, shared", "Control, MAPS-specific"], "range": [[1, 0], [1, 0], [10, 6], [10, 6]]}, "legend": {"legendX": 98, "legendY": 0}}
         }},
        {"data": {"values": [{}]}, "mark": {"type": "text", "text": "x10", "align": "left", "baseline": "alphabetic", "dx": -21, "dy": -12, "fontSize": 19, "color": "black"}, "encoding": {"x": {"datum": -1755, "type": "quantitative"}, "y": {"datum": 1.165, "type": "quantitative"}}},
        {"data": {"values": [{}]}, "mark": {"type": "text", "text": "-4", "align": "left", "baseline": "alphabetic", "dx": 10, "dy": -20, "fontSize": 13, "color": "black"}, "encoding": {"x": {"datum": -1755, "type": "quantitative"}, "y": {"datum": 1.165, "type": "quantitative"}}}
      ]
    }
  ],
  "config": {
    "font": "Liberation Sans",
    "view": {"stroke": "black", "strokeWidth": 1},
    "title": {"font": "Liberation Sans", "fontSize": 26, "fontWeight": "bold", "color": "black"},
    "text": {"font": "Liberation Sans"},
    "axis": {"domain": false, "grid": false, "tickColor": "black", "tickSize": 7, "tickWidth": 1, "labelColor": "black", "labelFont": "Liberation Sans", "labelFontSize": 21, "labelFlush": false, "labelOverlap": false, "labelBound": false, "titleFont": "Liberation Sans", "titleFontSize": 26, "titleFontWeight": "normal", "titleColor": "black"},
    "axisX": {"labelPadding": 4},
    "axisY": {"labelPadding": 3, "labelFontSize": 23, "titleAngle": 270, "titleAlign": "center", "titleBaseline": "alphabetic"},
    "legend": {"orient": "none", "title": null, "symbolType": "stroke", "symbolSize": 3364, "symbolStrokeWidth": 2.7, "clipHeight": 20, "rowPadding": 2.7, "padding": 8.5, "labelOffset": 12.5, "labelFontSize": 16, "labelFont": "Liberation Sans", "labelColor": "black", "labelLimit": 400, "strokeColor": "black", "fillColor": "white"}
  }
}
